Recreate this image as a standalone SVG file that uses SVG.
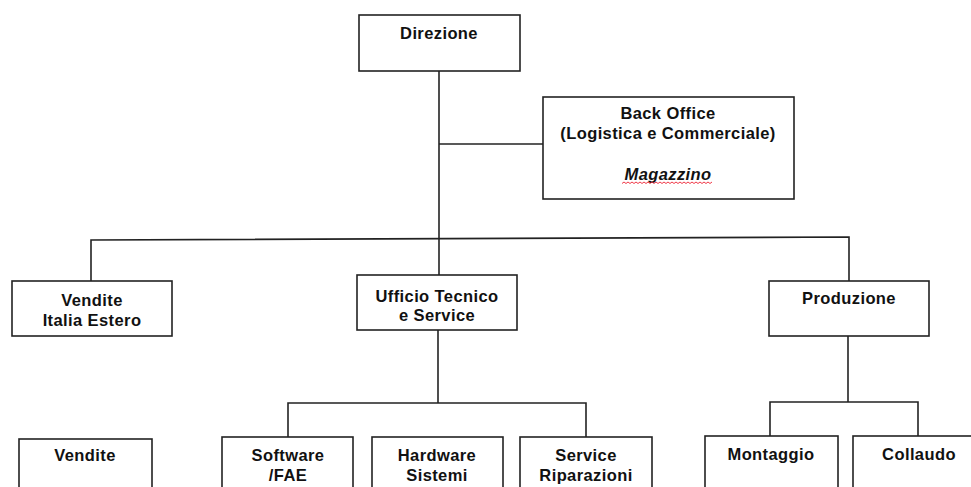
<svg xmlns="http://www.w3.org/2000/svg" width="971" height="487" viewBox="0 0 971 487">
<style>
.box{fill:#fff;stroke:#222;stroke-width:1.6}
.con{stroke:#222;stroke-width:1.6;fill:none}
text{font-family:"Liberation Sans",Arial,sans-serif;font-size:16.5px;font-weight:bold;letter-spacing:0.4px;fill:#111;text-anchor:middle}
.it{font-style:italic}
</style>
<rect width="971" height="487" fill="#fff"/>
<g id="connectors">
<line class="con" x1="439" y1="71" x2="439" y2="275"/>
<line class="con" x1="439" y1="144" x2="543" y2="144"/>
<polyline class="con" points="91,281 91,240 849,237 849,281"/>
<line class="con" x1="438" y1="330" x2="438" y2="403"/>
<polyline class="con" points="288,437 288,403 586,403 586,437"/>
<line class="con" x1="848" y1="336" x2="848" y2="402"/>
<polyline class="con" points="770,436 770,402 918,402 918,436"/>
</g>
<g id="direzione">
<rect class="box" x="359" y="15" width="161" height="56"/>
<text x="439" y="39">Direzione</text>
</g>
<g id="backoffice">
<rect class="box" x="543" y="97" width="251" height="102"/>
<text x="668" y="119">Back Office</text>
<text x="668" y="139">(Logistica e Commerciale)</text>
<text class="it" x="668" y="180">Magazzino</text>
<path d="M622,183.5 l2,-1.5 l2,1.5 l2,-1.5 l2,1.5 l2,-1.5 l2,1.5 l2,-1.5 l2,1.5 l2,-1.5 l2,1.5 l2,-1.5 l2,1.5 l2,-1.5 l2,1.5 l2,-1.5 l2,1.5 l2,-1.5 l2,1.5 l2,-1.5 l2,1.5 l2,-1.5 l2,1.5 l2,-1.5 l2,1.5 l2,-1.5 l2,1.5 l2,-1.5 l2,1.5 l2,-1.5 l2,1.5 l2,-1.5 l2,1.5 l2,-1.5 l2,1.5 l2,-1.5 l2,1.5 l2,-1.5 l2,1.5 l2,-1.5 l2,1.5 l2,-1.5 l2,1.5 l2,-1.5 l2,1.5 l2,-1.5" fill="none" stroke="#e23" stroke-width="0.9"/>
</g>
<g id="vendite-italia">
<rect class="box" x="12" y="281" width="160" height="55"/>
<text x="92" y="306">Vendite</text>
<text x="92" y="326">Italia Estero</text>
</g>
<g id="ufficio-tecnico">
<rect class="box" x="357" y="275" width="160" height="55"/>
<text x="437" y="302">Ufficio Tecnico</text>
<text x="437" y="321">e Service</text>
</g>
<g id="produzione">
<rect class="box" x="769" y="281" width="160" height="55"/>
<text x="849" y="304">Produzione</text>
</g>
<g id="vendite">
<rect class="box" x="19" y="439" width="133" height="70"/>
<text x="85" y="461">Vendite</text>
</g>
<g id="software">
<rect class="box" x="222" y="437" width="131" height="70"/>
<text x="288" y="461">Software</text>
<text x="288" y="481">/FAE</text>
</g>
<g id="hardware">
<rect class="box" x="372" y="437" width="131" height="70"/>
<text x="437" y="461">Hardware</text>
<text x="437" y="481">Sistemi</text>
</g>
<g id="service">
<rect class="box" x="520" y="437" width="132" height="70"/>
<text x="586" y="461">Service</text>
<text x="586" y="481">Riparazioni</text>
</g>
<g id="montaggio">
<rect class="box" x="705" y="436" width="133" height="70"/>
<text x="771" y="460">Montaggio</text>
</g>
<g id="collaudo">
<rect class="box" x="853" y="436" width="133" height="70"/>
<text x="919" y="460">Collaudo</text>
</g>
</svg>
